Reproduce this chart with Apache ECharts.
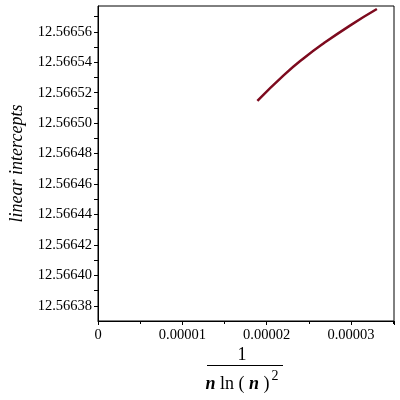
<!DOCTYPE html>
<html>
<head>
<meta charset="utf-8">
<script src="https://cdn.jsdelivr.net/npm/echarts@6/dist/echarts.min.js"></script>
<style>
  html, body { margin: 0; padding: 0; background: #fff; }
  #main { width: 400px; height: 400px; }
</style>
</head>
<body>
<div id="main"></div>
<script>
// values
const xValues = [1.890e-5, 2.204e-5, 2.440e-5, 2.677e-5, 2.992e-5, 3.307e-5]
const yValues = [12.5665147, 12.5665316, 12.5665427, 12.5665525, 12.5665643, 12.5665750]
const xRange = [0, 3.51e-5]
const yRange = [12.56637, 12.566577]
const yLabel = 'linear intercepts'

const font = '"Liberation Serif", "DejaVu Serif", serif'
const myChart = echarts.init(document.getElementById('main'))

const option = {
  animation: false,
  grid: {
    left: 97,
    right: 6,
    top: 6,
    bottom: 79,
    show: true,
    borderColor: '#000',
    borderWidth: 1
  },
  xAxis: {
    type: 'value',
    min: xRange[0],
    max: xRange[1],
    interval: 1e-5,
    splitLine: { show: false },
    axisLine: { onZero: false, lineStyle: { color: '#000' } },
    axisTick: { length: 4, lineStyle: { color: '#000' } },
    minorTick: { show: true, splitNumber: 2, length: 3, lineStyle: { color: '#000' } },
    axisLabel: {
      color: '#000',
      fontFamily: font,
      fontSize: 14.5,
      margin: 7,
      showMaxLabel: false,
      formatter: v => (v === 0 ? '0' : v.toFixed(5))
    }
  },
  yAxis: {
    type: 'value',
    min: yRange[0],
    max: yRange[1],
    // min is a multiple of 0.00001; every other tick gets a label
    interval: 0.00001,
    name: yLabel,
    nameLocation: 'middle',
    nameGap: 72,
    nameTextStyle: {
      color: '#000',
      fontFamily: font,
      fontStyle: 'italic',
      fontSize: 18
    },
    splitLine: { show: false },
    axisLine: { lineStyle: { color: '#000' } },
    axisTick: { length: 4, lineStyle: { color: '#000' } },
    axisLabel: {
      color: '#000',
      fontFamily: font,
      fontSize: 14.5,
      margin: 6,
      showMinLabel: false,
      showMaxLabel: false,
      formatter: v => (Math.round(v / 0.00001) % 2 === 0 ? v.toFixed(5) : '')
    }
  },
  graphic: [
    {
      type: 'text',
      x: 242,
      y: 355,
      style: { text: '1', fontFamily: font, fontSize: 18, fill: '#000', align: 'center', verticalAlign: 'middle' }
    },
    {
      type: 'line',
      shape: { x1: 207, y1: 365.5, x2: 283, y2: 365.5 },
      style: { stroke: '#000', lineWidth: 1 }
    },
    {
      type: 'text',
      x: 242,
      y: 384,
      style: {
        text: '{i|n} ln ( {i|n} ){sup|2}',
        fontFamily: font,
        fontSize: 18,
        fill: '#000',
        align: 'center',
        verticalAlign: 'middle',
        rich: {
          i: { fontFamily: font, fontSize: 18, fontStyle: 'italic', fontWeight: 'bold', fill: '#000' },
          sup: { fontFamily: font, fontSize: 14, fill: '#000', padding: [0, 0, 16, 2] }
        }
      }
    }
  ],
  series: [
    {
      type: 'line',
      smooth: true,
      symbol: 'none',
      lineStyle: { color: '#7d0a1e', width: 2.5 },
      data: xValues.map((x, i) => [x, yValues[i]])
    }
  ]
}
myChart.setOption(option)
</script>
</body>
</html>
